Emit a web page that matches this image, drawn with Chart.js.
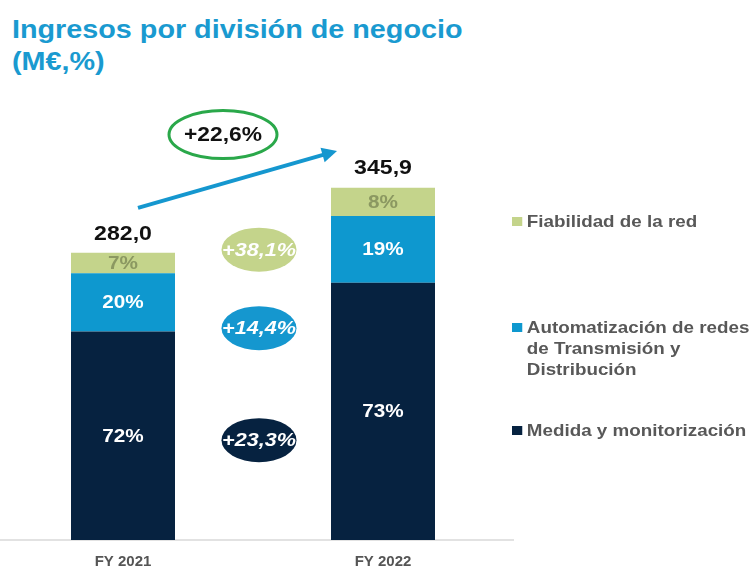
<!DOCTYPE html>
<html>
<head>
<meta charset="utf-8">
<script src="https://cdn.jsdelivr.net/npm/chart.js@4.4.0/dist/chart.umd.min.js"></script>
<style>
  body { margin: 0; background: #fff; font-family: "Liberation Sans", Arial, sans-serif; }
  #wrap { position: relative; width: 754px; height: 567px; overflow: hidden; }
  #title { position: absolute; left: 12px; top: 13px; color: #1a9ad0; font-weight: bold; font-size: 25px; line-height: 32px;
           transform: scaleX(1.15); transform-origin: 0 0; white-space: nowrap; }
  canvas { position: absolute; left: -7px; top: 0; }
  .leg { position: absolute; left: 512px; color: #585858; font-weight: bold; font-size: 16.5px; line-height: 21px;
         transform: scaleX(1.14); transform-origin: 0 0; white-space: nowrap; }
  .leg i { position: absolute; left: 0; top: 6px; width: 8.5px; height: 9px; }
  .leg span { display: block; padding-left: 13px; }
</style>
</head>
<body>
<div id="wrap">
  <div id="title">Ingresos por división de negocio<br>(M€,%)</div>
  <canvas id="myChart" width="760" height="580"></canvas>
  <div id="legend"></div>
</div>
<script>
const years = ['FY 2021', 'FY 2022'];
const medida = [204.6, 252.5];
const automatizacion = [57.4, 65.7];
const fiabilidad = [20.0, 27.7];
const totals = ['282,0', '345,9'];
const shareMedida = ['72%', '73%'];
const shareAuto = ['20%', '19%'];
const shareFiab = ['7%', '8%'];
const growth = ['+23,3%', '+14,4%', '+38,1%']; // medida, automatizacion, fiabilidad
const totalGrowth = '+22,6%';

const NAVY = '#062240', BLUE = '#0e98cf', LIME = '#c4d48b';
const FONT = '"Liberation Sans", Arial, sans-serif';

// legend (html)
const legendItems = [
  { text: 'Fiabilidad de la red', color: LIME, top: 211 },
  { text: 'Automatización de redes<br>de Transmisión y<br>Distribución', color: BLUE, top: 317 },
  { text: 'Medida y monitorización', color: NAVY, top: 420 }
];
legendItems.forEach(function (it) {
  const d = document.createElement('div');
  d.className = 'leg';
  d.style.top = it.top + 'px';
  d.innerHTML = '<i style="background:' + it.color + '"></i><span>' + it.text + '</span>';
  document.getElementById('legend').appendChild(d);
});

function ellipse(ctx, x, y, rx, ry) {
  ctx.beginPath();
  ctx.ellipse(x, y, rx, ry, 0, 0, Math.PI * 2);
}

// text in the slide is a bit wider than normal Arial
function wideText(ctx, text, x, y, sx) {
  ctx.save();
  ctx.translate(x, y);
  ctx.scale(sx, 1);
  ctx.fillText(text, 0, 0);
  ctx.restore();
}

const labelsPlugin = {
  id: 'labels',
  afterDatasetsDraw(chart) {
    const ctx = chart.ctx;
    const y = chart.scales.y;
    const shares = [shareMedida, shareAuto, shareFiab];
    const colors = ['#ffffff', '#ffffff', '#8b9861'];
    ctx.save();
    ctx.textAlign = 'center';
    ctx.textBaseline = 'middle';
    // segment labels
    ctx.font = 'bold 18px ' + FONT;
    chart.data.datasets.forEach(function (ds, i) {
      chart.getDatasetMeta(i).data.forEach(function (bar, j) {
        ctx.fillStyle = colors[i];
        wideText(ctx, shares[i][j], bar.x, (bar.y + bar.base) / 2 + 1, 1.15);
      });
    });
    // totals
    const top = chart.getDatasetMeta(2).data;
    ctx.fillStyle = '#111';
    ctx.font = 'bold 21px ' + FONT;
    top.forEach(function (bar, j) {
      wideText(ctx, totals[j], bar.x, bar.y - 19, 1.1);
    });
    // growth bubbles between bars
    const cx = (top[0].x + top[1].x) / 2 + 6;
    const bubbles = [
      { v: 98, fill: NAVY, text: growth[0] },
      { v: 208, fill: '#1597cf', text: growth[1] },
      { v: 285, fill: LIME, text: growth[2] }
    ];
    ctx.font = 'italic bold 18px ' + FONT;
    bubbles.forEach(function (b) {
      const by = y.getPixelForValue(b.v);
      ellipse(ctx, cx, by, 37.5, 22);
      ctx.fillStyle = b.fill;
      ctx.fill();
      ctx.fillStyle = '#fff';
      wideText(ctx, b.text, cx, by + 1, 1.2);
    });
    // arrow
    const x0 = top[0].x + 15, y0 = y.getPixelForValue(326);
    const x1 = top[1].x - 46, y1 = y.getPixelForValue(382);
    ctx.strokeStyle = '#1597cf';
    ctx.fillStyle = '#1597cf';
    ctx.lineWidth = 4;
    const ang = Math.atan2(y1 - y0, x1 - x0);
    ctx.beginPath();
    ctx.moveTo(x0, y0);
    ctx.lineTo(x1 - 10 * Math.cos(ang), y1 - 10 * Math.sin(ang));
    ctx.stroke();
    ctx.beginPath();
    ctx.moveTo(x1, y1);
    ctx.lineTo(x1 - 15 * Math.cos(ang) + 7.5 * Math.sin(ang), y1 - 15 * Math.sin(ang) - 7.5 * Math.cos(ang));
    ctx.lineTo(x1 - 15 * Math.cos(ang) - 7.5 * Math.sin(ang), y1 - 15 * Math.sin(ang) + 7.5 * Math.cos(ang));
    ctx.closePath();
    ctx.fill();
    // total growth ring
    const gx = top[0].x + 100, gy = y.getPixelForValue(398);
    ellipse(ctx, gx, gy, 54, 24);
    ctx.fillStyle = '#fff';
    ctx.fill();
    ctx.strokeStyle = '#2aa84a';
    ctx.lineWidth = 3;
    ctx.stroke();
    ctx.fillStyle = '#111';
    ctx.font = 'bold 20px ' + FONT;
    wideText(ctx, totalGrowth, gx, gy + 1, 1.14);
    ctx.restore();
  }
};

const ctx = document.getElementById('myChart');
new Chart(ctx, {
  type: 'bar',
  data: {
    labels: years,
    datasets: [
      { label: 'Medida y monitorización', data: medida, backgroundColor: NAVY },
      { label: 'Automatización de redes de Transmisión y Distribución', data: automatizacion, backgroundColor: BLUE },
      { label: 'Fiabilidad de la red', data: fiabilidad, backgroundColor: LIME }
    ]
  },
  options: {
    responsive: false,
    animation: false,
    layout: { padding: { left: 0, right: 240, top: 102, bottom: 4 } },
    datasets: { bar: { categoryPercentage: 1, barPercentage: 0.4 } },
    plugins: { legend: { display: false }, tooltip: { enabled: false } },
    scales: {
      x: {
        stacked: true,
        grid: { display: false },
        border: { color: '#e2e2e2', width: 2 },
        ticks: { color: '#555', padding: 5, font: { family: FONT, size: 15, weight: 'bold' } }
      },
      y: {
        stacked: true,
        display: false,
        min: 0,
        max: 430
      }
    }
  },
  plugins: [labelsPlugin]
});
</script>
</body>
</html>
